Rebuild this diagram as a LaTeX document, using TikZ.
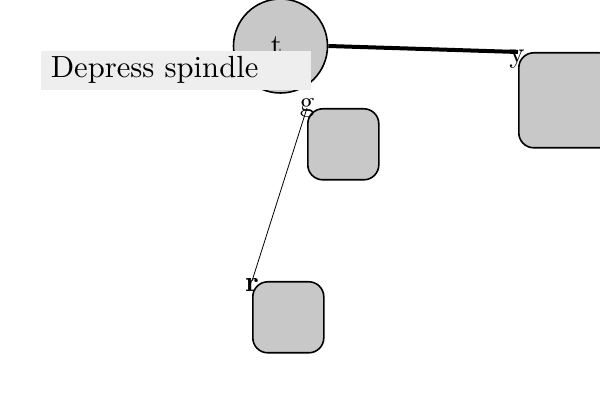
\documentclass[tikz,border=0pt]{standalone}
\usetikzlibrary{positioning}
\definecolor{boxgray}{RGB}{200,200,200}
\definecolor{notegray}{RGB}{238,238,238}
\tikzset{
  state/.style={draw, fill=boxgray, rounded corners=7.5pt, minimum size=35.5pt, inner sep=0pt, anchor=north west},
  tag/.style={inner sep=0pt}
}
\newcommand{\tagtext}[1]{\scalebox{1.45}{#1}}

\begin{document}
\begin{tikzpicture}[x=0.5pt, y=-0.5pt, thick]
            \useasboundingbox (0,0) rectangle (600,400);
            \node[circle, draw, fill=boxgray, minimum size=47pt, inner sep=0pt] (t) at (280.5,46) {};
            \node[state, minimum size=47.5pt] (y) at (518,52) {};
            \node[state] (g) at (307,108) {};
            \node[state] (r) at (252,281) {};
            \draw[line width=2pt] (t.east) -- (y.north west);
            \draw[thin] (g.north west) -- (r.north west);
            \node[tag] at ([xshift=-2pt]t.center) {\tagtext{t}};
            \node[tag] at ([xshift=-0.5pt, yshift=-3.5pt]y.north west) {\tagtext{y}};
            \node[tag] at (g.north west) {\tagtext{g}};
            \node[tag] at ([yshift=-2pt]r.north west) {\tagtext{\bfseries r}};
            \node[fill=notegray, anchor=north west, minimum height=19.5pt, text width=125pt, inner xsep=5pt, inner ysep=0pt, align=left] (note) at (40,50) {\scalebox{1.53}{Depress spindle}};
        \end{tikzpicture}
\end{document}
